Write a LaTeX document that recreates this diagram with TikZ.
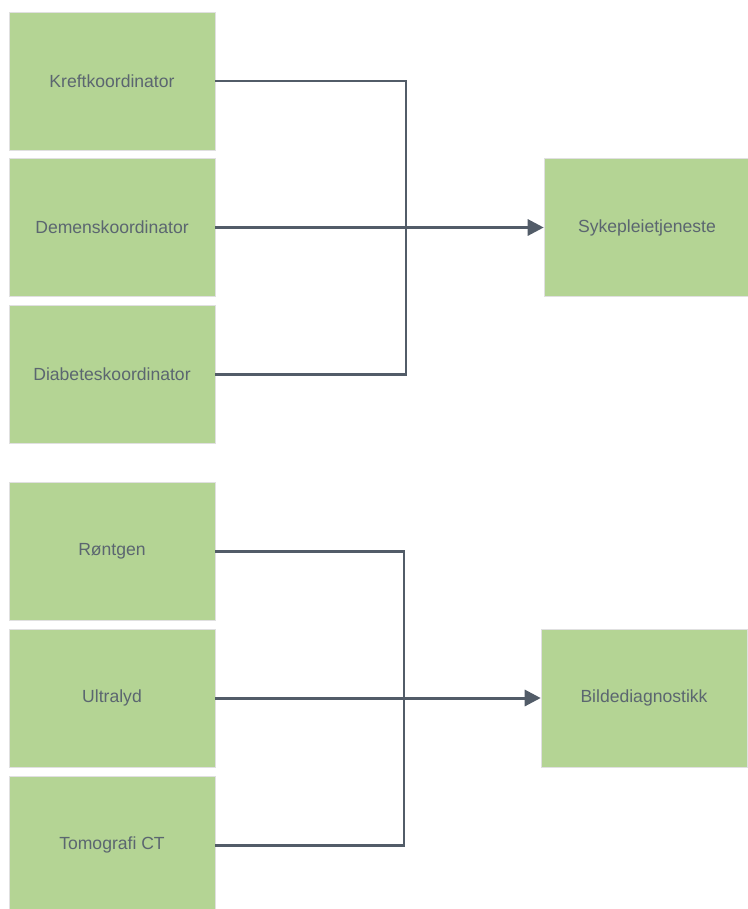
\documentclass[tikz,border=0pt]{standalone}
\usepackage{fontspec}
\setmainfont{Liberation Sans}
\usetikzlibrary{arrows.meta, calc}
\definecolor{boxgreen}{HTML}{B4D494}
\definecolor{linegray}{HTML}{525C68}
\definecolor{textgray}{HTML}{5B6670}

\begin{document}
\begin{tikzpicture}[>={Triangle[length=0.32cm, width=0.32cm]}, line join=miter, font=\fontsize{10}{12}\selectfont,
	box/.style={draw=black!12, line width=0.3pt, fill=boxgreen, text=textgray,
		minimum width=4.12cm, minimum height=2.76cm, inner sep=0pt},
	link/.style={draw=linegray, line width=1.7pt}]

\useasboundingbox (0,0) rectangle (14.94,-18.18);

%========================
% Top: koordinatorer
%========================
\begin{scope}
	% boxes
	\node[box] (kreft)    at (2.24,-1.62) {Kreftkoordinator};
	\node[box] (demens)   at (2.24,-4.55) {Demenskoordinator};
	\node[box] (diabetes) at (2.24,-7.48) {Diabeteskoordinator};
	\node[box] (sykepleie) at (12.94,-4.55) {Sykepleietjeneste};
	
	% connectors
	\coordinate (bustop) at (8.12,-4.55);
	\draw[link] (kreft.east) -| (bustop) |- (diabetes.east);
	\draw[link,->] (demens.east) -- (sykepleie.west);
\end{scope}

%========================
% Bottom: bildediagnostikk
%========================
\begin{scope}
	% boxes
	\node[box] (rontgen)  at (2.24,-11.03) {Røntgen};
	\node[box] (ultralyd) at (2.24,-13.96) {Ultralyd};
	\node[box] (tomografi) at (2.24,-16.90) {Tomografi CT};
	\node[box] (bilde)    at (12.88,-13.96) {Bildediagnostikk};
	
	% connectors
	\coordinate (busbot) at (8.08,-13.96);
	\draw[link] (rontgen.east) -| (busbot) |- (tomografi.east);
	\draw[link,->] (ultralyd.east) -- (bilde.west);
\end{scope}

\end{tikzpicture}
\end{document}
